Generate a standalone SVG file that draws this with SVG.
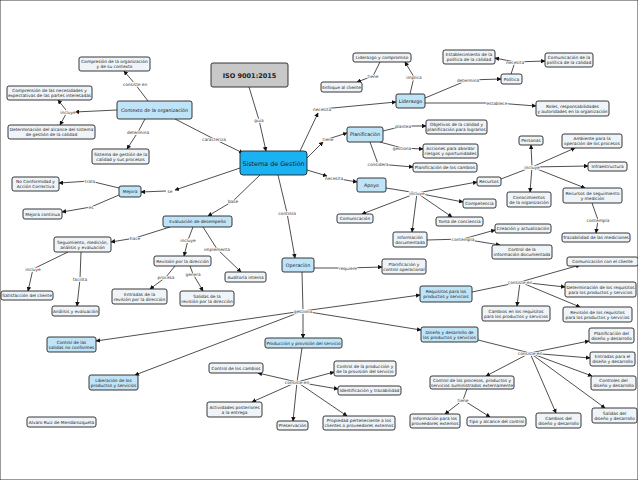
<svg xmlns="http://www.w3.org/2000/svg" width="638" height="480" viewBox="0 0 638 480">
<style>
rect{stroke:#222;stroke-width:0.9}
.n rect{fill:#eef4f8}
.b rect{fill:#bfe3f7}
text{font-family:"DejaVu Sans",Verdana,sans-serif;font-size:4.3px;fill:#222;text-anchor:middle}
.l{fill:#333;paint-order:stroke;stroke:#fff;stroke-width:1.6px}
#conn line{stroke:#222;stroke-width:0.8}
#conn .a{marker-end:url(#ah)}
</style>
<defs><marker id="ah" viewBox="0 0 10 10" refX="9" refY="5" markerWidth="4.5" markerHeight="4.5" markerUnits="userSpaceOnUse" orient="auto"><path d="M0,0L10,5L0,10z" fill="#111"/></marker></defs>
<rect x="0" y="0" width="638" height="480" fill="#fff" stroke="none"/>
<g id="conn">
<line x1="249" y1="87" x2="259" y2="120"/><line class="a" x1="259" y1="120" x2="266" y2="151"/>
<line x1="148" y1="101" x2="135" y2="84"/><line class="a" x1="135" y1="84" x2="124" y2="71"/>
<line class="a" x1="117" y1="110" x2="75" y2="112"/><line class="a" x1="66" y1="110" x2="58" y2="100"/><line class="a" x1="66" y1="114" x2="60" y2="125"/>
<line x1="145" y1="119" x2="138" y2="132"/><line class="a" x1="138" y1="132" x2="127" y2="149"/>
<line x1="175" y1="119" x2="214" y2="139"/><line class="a" x1="214" y1="139" x2="243" y2="153"/>
<line class="a" x1="240" y1="168" x2="175" y2="190"/><line class="a" x1="166" y1="191" x2="141" y2="192"/>
<line x1="119" y1="188" x2="90" y2="181"/><line class="a" x1="90" y1="181" x2="59" y2="183"/>
<line x1="119" y1="195" x2="91" y2="207"/><line class="a" x1="91" y1="207" x2="62" y2="212"/>
<line x1="260" y1="175" x2="233" y2="201"/><line class="a" x1="233" y1="201" x2="208" y2="216"/>
<line x1="170" y1="227" x2="135" y2="238"/><line class="a" x1="135" y1="238" x2="111" y2="242"/>
<line x1="193" y1="227" x2="188" y2="240"/><line class="a" x1="188" y1="240" x2="184" y2="256"/>
<line x1="203" y1="227" x2="217" y2="249"/><line class="a" x1="217" y1="249" x2="241" y2="272"/>
<line x1="68" y1="252" x2="33" y2="269"/><line class="a" x1="33" y1="269" x2="28" y2="291"/>
<line x1="81" y1="252" x2="80" y2="279"/><line class="a" x1="80" y1="279" x2="77" y2="306"/>
<line x1="175" y1="266" x2="166" y2="277"/><line class="a" x1="166" y1="277" x2="150" y2="289"/>
<line x1="190" y1="266" x2="193" y2="274"/><line class="a" x1="193" y1="274" x2="203" y2="291"/>
<line x1="278" y1="175" x2="287" y2="213"/><line class="a" x1="287" y1="213" x2="295" y2="258"/>
<line x1="314" y1="268" x2="348" y2="268"/><line class="a" x1="348" y1="268" x2="382" y2="267"/>
<line x1="302" y1="272" x2="303" y2="311"/>
<line class="a" x1="303" y1="311" x2="420" y2="295"/><line class="a" x1="303" y1="311" x2="303" y2="338"/><line class="a" x1="303" y1="311" x2="421" y2="330"/><line class="a" x1="303" y1="311" x2="96" y2="341"/><line class="a" x1="303" y1="311" x2="135" y2="375"/>
<line class="a" x1="300" y1="151" x2="318" y2="113"/><line class="a" x1="322" y1="109" x2="396" y2="102"/>
<line x1="410" y1="94" x2="414" y2="77"/><line class="a" x1="414" y1="77" x2="405" y2="62"/>
<line x1="380" y1="62" x2="373" y2="76"/><line class="a" x1="373" y1="76" x2="357" y2="82"/>
<line x1="425" y1="98" x2="468" y2="80"/><line class="a" x1="468" y1="80" x2="501" y2="79"/>
<line x1="511" y1="74" x2="515" y2="62"/><line class="a" x1="515" y1="62" x2="495" y2="58"/><line class="a" x1="515" y1="62" x2="545" y2="61"/>
<line x1="425" y1="103" x2="497" y2="103"/><line class="a" x1="497" y1="103" x2="536" y2="106"/>
<line class="a" x1="307" y1="158" x2="323" y2="142"/><line class="a" x1="328" y1="139" x2="347" y2="133"/>
<line x1="383" y1="131" x2="403" y2="126"/><line class="a" x1="403" y1="126" x2="426" y2="126"/>
<line x1="380" y1="142" x2="402" y2="148"/><line class="a" x1="402" y1="148" x2="423" y2="149"/>
<line x1="370" y1="142" x2="378" y2="164"/><line class="a" x1="378" y1="164" x2="413" y2="167"/>
<line class="a" x1="307" y1="170" x2="327" y2="176"/><line class="a" x1="334" y1="178" x2="357" y2="182"/>
<line x1="386" y1="188" x2="417" y2="193"/>
<line class="a" x1="417" y1="193" x2="477" y2="182"/><line class="a" x1="417" y1="193" x2="463" y2="202"/><line class="a" x1="417" y1="193" x2="452" y2="217"/><line class="a" x1="417" y1="193" x2="362" y2="214"/><line class="a" x1="417" y1="193" x2="412" y2="232"/>
<line x1="501" y1="179" x2="532" y2="167"/>
<line class="a" x1="532" y1="167" x2="531" y2="145"/><line class="a" x1="532" y1="167" x2="575" y2="148"/><line class="a" x1="532" y1="167" x2="588" y2="166"/><line class="a" x1="532" y1="167" x2="585" y2="188"/><line class="a" x1="532" y1="167" x2="530" y2="192"/>
<line x1="592" y1="203" x2="598" y2="220"/><line class="a" x1="598" y1="220" x2="596" y2="233"/>
<line x1="427" y1="240" x2="463" y2="239"/><line class="a" x1="463" y1="239" x2="495" y2="230"/><line class="a" x1="463" y1="239" x2="500" y2="245"/>
<line x1="472" y1="292" x2="520" y2="282"/>
<line class="a" x1="520" y1="282" x2="580" y2="265"/><line class="a" x1="520" y1="282" x2="565" y2="287"/><line class="a" x1="520" y1="282" x2="580" y2="307"/><line class="a" x1="520" y1="282" x2="517" y2="306"/>
<line x1="302" y1="348" x2="297" y2="382"/>
<line class="a" x1="297" y1="382" x2="258" y2="373"/><line class="a" x1="297" y1="382" x2="334" y2="372"/><line class="a" x1="297" y1="382" x2="338" y2="389"/><line class="a" x1="297" y1="382" x2="347" y2="416"/><line class="a" x1="297" y1="382" x2="293" y2="421"/><line class="a" x1="297" y1="382" x2="252" y2="402"/>
<line x1="478" y1="340" x2="530" y2="353"/>
<line class="a" x1="530" y1="353" x2="589" y2="341"/><line class="a" x1="530" y1="353" x2="590" y2="358"/><line class="a" x1="530" y1="353" x2="592" y2="376"/><line class="a" x1="530" y1="353" x2="605" y2="408"/><line class="a" x1="530" y1="353" x2="556" y2="413"/><line class="a" x1="530" y1="353" x2="486" y2="376"/>
<line x1="467" y1="389" x2="463" y2="400"/><line class="a" x1="463" y1="400" x2="445" y2="414"/><line class="a" x1="463" y1="400" x2="490" y2="417"/>
</g>
<g id="labels">
<text class="l" x="259" y="121.5">guía</text>
<text class="l" x="135" y="85.5">consiste en</text>
<text class="l" x="68" y="113.5">incluye</text>
<text class="l" x="138" y="133.5">determina</text>
<text class="l" x="214" y="140.5">caracteriza</text>
<text class="l" x="170" y="192.5">se</text>
<text class="l" x="90" y="182.5">trata</text>
<text class="l" x="91" y="208.5">es</text>
<text class="l" x="233" y="202.5">base</text>
<text class="l" x="135" y="239.5">hace</text>
<text class="l" x="188" y="241.5">incluye</text>
<text class="l" x="217" y="250.5">implementa</text>
<text class="l" x="33" y="270.5">incluye</text>
<text class="l" x="80" y="280.5">facilita</text>
<text class="l" x="166" y="278.5">procesa</text>
<text class="l" x="193" y="275.5">genera</text>
<text class="l" x="287" y="214.5">controla</text>
<text class="l" x="348" y="269.5">requiere</text>
<text class="l" x="303" y="312.5">gestiona</text>
<text class="l" x="322" y="110.5">necesita</text>
<text class="l" x="414" y="78.5">implica</text>
<text class="l" x="373" y="77.5">tiene</text>
<text class="l" x="468" y="81.5">determina</text>
<text class="l" x="515" y="63.5">necesita</text>
<text class="l" x="497" y="104.5">establece</text>
<text class="l" x="328" y="140.5">tiene</text>
<text class="l" x="403" y="127.5">plantea</text>
<text class="l" x="402" y="149.5">gestiona</text>
<text class="l" x="378" y="165.5">considera</text>
<text class="l" x="334" y="179.5">necesita</text>
<text class="l" x="417" y="194.5">incluye</text>
<text class="l" x="532" y="168.5">incluye</text>
<text class="l" x="598" y="221.5">contempla</text>
<text class="l" x="463" y="240.5">contempla</text>
<text class="l" x="520" y="283.5">consiste en</text>
<text class="l" x="297" y="383.5">consiste en</text>
<text class="l" x="530" y="354.5">consiste en</text>
<text class="l" x="463" y="401.5">tiene</text>
</g>
<g id="iso"><rect x="211" y="63" width="77" height="24" rx="2" fill="#c8c8c8" stroke-width="1.2"/><text x="249.5" y="77.5" style="font-size:6.5px;font-weight:bold">ISO 9001:2015</text></g>
<g id="sg"><rect x="240" y="151" width="67" height="24" rx="3" fill="#1ab2f2" stroke="#1a8ac0"/><text x="273.5" y="165.5" style="font-size:6.4px">Sistema de Gestión</text></g>
<g id="contexto" class="b"><rect x="117" y="101" width="75" height="18" rx="2"/><text x="154.5" y="112" style="font-size:4.8px">Contexto de la organización</text></g>
<g id="comporg" class="n"><rect x="79" y="57" width="71" height="14" rx="2"/><text x="114.5" y="63">Compresión de la organización</text><text x="114.5" y="68">y de su contexto</text></g>
<g id="compnec" class="n"><rect x="7" y="86" width="85" height="14" rx="2"/><text x="49.5" y="92">Comprensión de las necesidades y</text><text x="49.5" y="97">expectativas de las partes interesadas</text></g>
<g id="determ" class="n"><rect x="8" y="125" width="87" height="14" rx="2"/><text x="51.5" y="131">Determinación del alcance del sistema</text><text x="51.5" y="136">de gestión de la calidad</text></g>
<g id="sgcp" class="n"><rect x="92" y="149" width="57" height="15" rx="2"/><text x="120.5" y="155.5">Sistema de gestión de la</text><text x="120.5" y="160.5">calidad y sus procesos</text></g>
<g id="mejora" class="b"><rect x="119" y="186" width="22" height="11" rx="2"/><text x="130" y="193">Mejora</text></g>
<g id="noconf" class="n"><rect x="12" y="177" width="47" height="14" rx="2"/><text x="35.5" y="183">No Conformidad y</text><text x="35.5" y="188">Acción Correctiva</text></g>
<g id="mejcont" class="n"><rect x="23" y="209" width="39" height="10" rx="2"/><text x="42.5" y="215.5">Mejora continua</text></g>
<g id="evaldes" class="b"><rect x="163" y="216" width="69" height="11" rx="2"/><text x="197.5" y="223">Evaluación de desempeño</text></g>
<g id="seguim" class="n"><rect x="54" y="237" width="57" height="15" rx="2"/><text x="82.5" y="243.5">Seguimiento, medición,</text><text x="82.5" y="248.5">análisis y evaluación</text></g>
<g id="revdir" class="n"><rect x="154" y="256" width="57" height="10" rx="2"/><text x="182.5" y="262.5">Revisión por la dirección</text></g>
<g id="audit" class="n"><rect x="225" y="272" width="41" height="10" rx="2"/><text x="245.5" y="278.5">Auditoría interna</text></g>
<g id="satisf" class="n"><rect x="1" y="291" width="52" height="9" rx="2"/><text x="27" y="297">Satisfacción del cliente</text></g>
<g id="entradas" class="n"><rect x="112" y="289" width="55" height="15" rx="2"/><text x="139.5" y="295.5">Entradas de la</text><text x="139.5" y="300.5">revisión por la dirección</text></g>
<g id="salidas" class="n"><rect x="180" y="291" width="54" height="15" rx="2"/><text x="207" y="297.5">Salidas de la</text><text x="207" y="302.5">revisión por la dirección</text></g>
<g id="analeval" class="n"><rect x="52" y="306" width="47" height="10" rx="2"/><text x="75.5" y="312.5">Análisis y evaluación</text></g>
<g id="operacion" class="b"><rect x="282" y="258" width="32" height="14" rx="2"/><text x="298" y="266.5" style="font-size:4.8px">Operación</text></g>
<g id="planctrl" class="n"><rect x="382" y="259" width="44" height="15" rx="2"/><text x="404" y="265.5">Planificación y</text><text x="404" y="270.5">control operacional</text></g>
<g id="reqps" class="b"><rect x="420" y="286" width="52" height="16" rx="2"/><text x="446" y="293">Requisitos para los</text><text x="446" y="298">productos y servicios</text></g>
<g id="ctrlsal" class="b"><rect x="47" y="337" width="49" height="15" rx="2"/><text x="71.5" y="343.5">Control de las</text><text x="71.5" y="348.5">salidas no conformes</text></g>
<g id="liber" class="b"><rect x="89" y="375" width="49" height="15" rx="2"/><text x="113.5" y="381.5">Liberación de los</text><text x="113.5" y="386.5">productos y servicios</text></g>
<g id="alvaro" class="n"><rect x="27" y="417" width="69" height="10" rx="2"/><text x="61.5" y="423.5">Alvaro Ruiz de Mendarozqueta</text></g>
<g id="prodprov" class="b"><rect x="265" y="338" width="77" height="10" rx="2"/><text x="303.5" y="344.5">Producción y provisión del servicio</text></g>
<g id="ctrlcamb" class="n"><rect x="209" y="363" width="54" height="10" rx="2"/><text x="236" y="369.5">Control de los cambios</text></g>
<g id="actpost" class="n"><rect x="207" y="402" width="55" height="15" rx="2"/><text x="234.5" y="408.5">Actividades posteriores</text><text x="234.5" y="413.5">a la entrega</text></g>
<g id="preserv" class="n"><rect x="277" y="421" width="31" height="9" rx="2"/><text x="292.5" y="427">Preservación</text></g>
<g id="ctrlprod" class="n"><rect x="334" y="361" width="62" height="15" rx="2"/><text x="365" y="367.5">Control de la producción y</text><text x="365" y="372.5">de la provisión del servicio</text></g>
<g id="identtraz" class="n"><rect x="338" y="386" width="63" height="9" rx="2"/><text x="369.5" y="392">Identificación y trazabilidad</text></g>
<g id="propiedad" class="n"><rect x="323" y="416" width="72" height="14" rx="2"/><text x="359" y="422">Propiedad perteneciente a los</text><text x="359" y="427">clientes o proveedores externos</text></g>
<g id="disdes" class="b"><rect x="421" y="327" width="57" height="15" rx="2"/><text x="449.5" y="333.5">Diseño y desarrollo de</text><text x="449.5" y="338.5">los productos y servicios</text></g>
<g id="ctrlproc" class="n"><rect x="430" y="376" width="84" height="13" rx="2"/><text x="472" y="381.5">Control de los procesos, productos y</text><text x="472" y="386.5">servicios suministrados externamente</text></g>
<g id="infoprov" class="n"><rect x="410" y="414" width="50" height="14" rx="2"/><text x="435" y="420">Información para los</text><text x="435" y="425">proveedores externos</text></g>
<g id="tipoalc" class="n"><rect x="467" y="417" width="59" height="9" rx="2"/><text x="496.5" y="423">Tipo y alcance del control</text></g>
<g id="cambdis" class="n"><rect x="536" y="413" width="45" height="15" rx="2"/><text x="558.5" y="419.5">Cambios del</text><text x="558.5" y="424.5">diseño y desarrollo</text></g>
<g id="saldis" class="n"><rect x="592" y="408" width="45" height="15" rx="2"/><text x="614.5" y="414.5">Salidas del</text><text x="614.5" y="419.5">diseño y desarrollo</text></g>
<g id="ctrlsdis" class="n"><rect x="591" y="376" width="45" height="14" rx="2"/><text x="613.5" y="382">Controles del</text><text x="613.5" y="387">diseño y desarrollo</text></g>
<g id="entdis" class="n"><rect x="590" y="352" width="45" height="14" rx="2"/><text x="612.5" y="358">Entradas para el</text><text x="612.5" y="363">diseño y desarrollo</text></g>
<g id="plandis" class="n"><rect x="589" y="328" width="45" height="15" rx="2"/><text x="611.5" y="334.5">Planificación del</text><text x="611.5" y="339.5">diseño y desarrollo</text></g>
<g id="cambreq" class="n"><rect x="482" y="306" width="68" height="15" rx="2"/><text x="516" y="312.5">Cambios en los requisitos</text><text x="516" y="317.5">para los productos y servicios</text></g>
<g id="revreq" class="n"><rect x="563" y="307" width="69" height="15" rx="2"/><text x="597.5" y="313.5">Revisión de los requisitos</text><text x="597.5" y="318.5">para los productos y servicios</text></g>
<g id="detreq" class="n"><rect x="565" y="282" width="71" height="15" rx="2"/><text x="600.5" y="288.5">Determinación de los requisitos</text><text x="600.5" y="293.5">para los productos y servicios</text></g>
<g id="comcli" class="n"><rect x="567" y="257" width="71" height="9" rx="2"/><text x="602.5" y="263">Comunicación con el cliente</text></g>
<g id="trazab" class="n"><rect x="562" y="233" width="68" height="9" rx="2"/><text x="596" y="239">Trazabilidad de las mediciones</text></g>
<g id="ctrlinfo" class="n"><rect x="492" y="245" width="60" height="14" rx="2"/><text x="522" y="251">Control de la</text><text x="522" y="256">información documentada</text></g>
<g id="creacact" class="n"><rect x="495" y="224" width="56" height="9" rx="2"/><text x="523" y="230">Creación y actualización</text></g>
<g id="infodoc" class="n"><rect x="393" y="232" width="34" height="15" rx="2"/><text x="410" y="238.5">Información</text><text x="410" y="243.5">documentada</text></g>
<g id="tomaconc" class="n"><rect x="436" y="217" width="47" height="9" rx="2"/><text x="459.5" y="223">Toma de conciencia</text></g>
<g id="comunic" class="n"><rect x="337" y="214" width="36" height="9" rx="2"/><text x="355" y="220">Comunicación</text></g>
<g id="compet" class="n"><rect x="463" y="199" width="33" height="9" rx="2"/><text x="479.5" y="205">Competencia</text></g>
<g id="recseg" class="n"><rect x="563" y="188" width="59" height="15" rx="2"/><text x="592.5" y="194.5">Recursos de seguimiento</text><text x="592.5" y="199.5">y medición</text></g>
<g id="conoc" class="n"><rect x="507" y="192" width="44" height="15" rx="2"/><text x="529" y="198.5">Conocimientos</text><text x="529" y="203.5">de la organización</text></g>
<g id="recursos" class="n"><rect x="477" y="177" width="24" height="9" rx="2"/><text x="489" y="183">Recursos</text></g>
<g id="apoyo" class="b"><rect x="357" y="178" width="29" height="14" rx="2"/><text x="371.5" y="186.5" style="font-size:4.8px">Apoyo</text></g>
<g id="plancamb" class="n"><rect x="413" y="163" width="64" height="9" rx="2"/><text x="445" y="169">Planificación de los cambios</text></g>
<g id="infra" class="n"><rect x="588" y="162" width="39" height="9" rx="2"/><text x="607.5" y="168">Infraestructura</text></g>
<g id="ambiente" class="n"><rect x="562" y="134" width="60" height="14" rx="2"/><text x="592" y="140">Ambiente para la</text><text x="592" y="145">operación de los procesos</text></g>
<g id="personas" class="n"><rect x="519" y="136" width="24" height="9" rx="2"/><text x="531" y="142">Personas</text></g>
<g id="accries" class="n"><rect x="423" y="144" width="55" height="14" rx="2"/><text x="450.5" y="150">Acciones para abordar</text><text x="450.5" y="155">riesgos y oportunidades</text></g>
<g id="planif" class="b"><rect x="347" y="127" width="36" height="15" rx="2"/><text x="365" y="136" style="font-size:4.8px">Planificación</text></g>
<g id="objetivos" class="n"><rect x="426" y="120" width="61" height="14" rx="2"/><text x="456.5" y="126">Objetivos de la calidad y</text><text x="456.5" y="131">planificación para lograrlos</text></g>
<g id="roles" class="n"><rect x="536" y="101" width="73" height="15" rx="2"/><text x="572.5" y="107.5">Roles, responsabilidades</text><text x="572.5" y="112.5">y autoridades en la organización</text></g>
<g id="liderazgo" class="b"><rect x="396" y="94" width="29" height="14" rx="2"/><text x="410.5" y="102.5" style="font-size:4.8px">Liderazgo</text></g>
<g id="politica" class="n"><rect x="501" y="74" width="21" height="10" rx="2"/><text x="511.5" y="80.5">Política</text></g>
<g id="compol" class="n"><rect x="545" y="53" width="48" height="14" rx="2"/><text x="569" y="59">Comunicación de la</text><text x="569" y="64">política de la calidad</text></g>
<g id="estpol" class="n"><rect x="443" y="50" width="52" height="14" rx="2"/><text x="469" y="56">Establecimiento de la</text><text x="469" y="61">política de la calidad</text></g>
<g id="enfcli" class="n"><rect x="321" y="82" width="41" height="10" rx="2"/><text x="341.5" y="88.5">Enfoque al cliente</text></g>
<g id="lidcomp" class="n"><rect x="353" y="53" width="58" height="9" rx="2"/><text x="382" y="59">Liderazgo y compromiso</text></g>
</svg>
